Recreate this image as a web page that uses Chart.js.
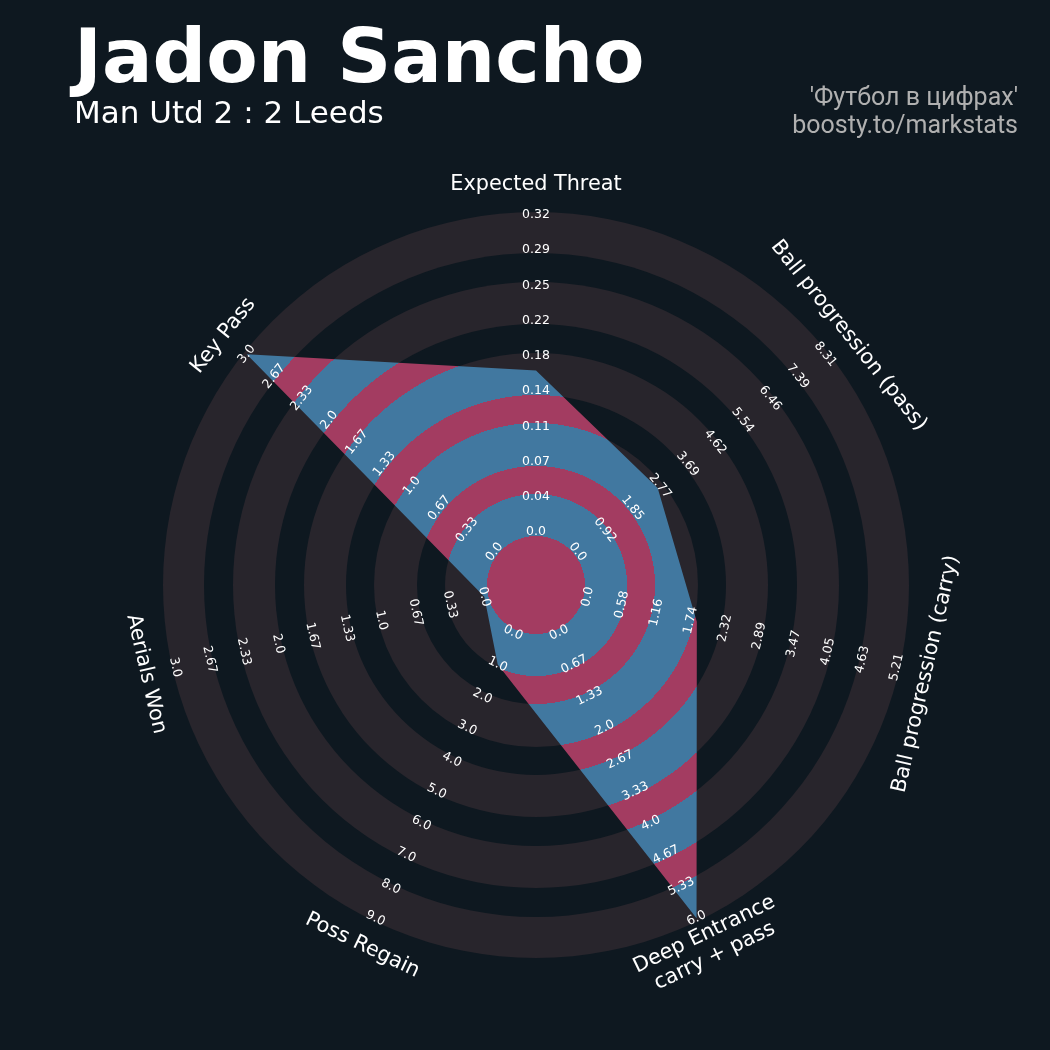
<!DOCTYPE html>
<html><head><meta charset="utf-8">
<script src="https://cdn.jsdelivr.net/npm/chart.js@4"></script>
<style>html,body{margin:0;padding:0;background:#0e1820;}canvas{display:block}</style>
</head><body>
<canvas id="c" width="1050" height="1050" style="width:1050px;height:1050px"></canvas>
<script>
// ---- data ----
const params = ['Expected Threat', 'Ball progression (pass)', 'Ball progression (carry)', ['Deep Entrance', 'carry + pass'], 'Poss Regain', 'Aerials Won', 'Key Pass'];
const mins = [0, 0, 0, 0, 0, 0, 0];
const maxs = [0.32, 8.31, 5.21, 6.0, 9.0, 3.0, 3.0];
const values = [0.163, 2.69, 1.84, 6.0, 1.0, 0.0, 3.0];
const ticksXT = ['0.0', '0.04', '0.07', '0.11', '0.14', '0.18', '0.22', '0.25', '0.29', '0.32'];
const ticksPass = ['0.0', '0.92', '1.85', '2.77', '3.69', '4.62', '5.54', '6.46', '7.39', '8.31'];
const ticksCarry = ['0.0', '0.58', '1.16', '1.74', '2.32', '2.89', '3.47', '4.05', '4.63', '5.21'];
const ticksDeep = ['0.0', '0.67', '1.33', '2.0', '2.67', '3.33', '4.0', '4.67', '5.33', '6.0'];
const ticksPoss = ['0.0', '1.0', '2.0', '3.0', '4.0', '5.0', '6.0', '7.0', '8.0', '9.0'];
const ticksAerial = ['0.0', '0.33', '0.67', '1.0', '1.33', '1.67', '2.0', '2.33', '2.67', '3.0'];
const ticksKey = ['0.0', '0.33', '0.67', '1.0', '1.33', '1.67', '2.0', '2.33', '2.67', '3.0'];
const tickLabels = [ticksXT, ticksPass, ticksCarry, ticksDeep, ticksPoss, ticksAerial, ticksKey];
const titleText = 'Jadon Sancho';
const subtitleText = 'Man Utd 2 : 2 Leeds';
const creditLines = ["'Футбол в цифрах'", 'boosty.to/markstats'];

// ---- style ----
const COLORS = {bg: '#0e1820', ring: '#28252c', blue: '#4178a0', pink: '#a33c61', text: '#ffffff', credit: '#b0b0b0'};
const RING_EDGES = [49, 91, 119, 162, 190, 232, 261, 303, 332, 373];
const SCALE_MIN = -0.1672;
const LABEL_R = 400;

const normalized = values.map((v, i) => (v - mins[i]) / (maxs[i] - mins[i]));

function ringGradient(chart) {
  const s = chart.scales.r;
  if (!s || !s.drawingArea) return COLORS.blue;
  const R = RING_EDGES[RING_EDGES.length - 1];
  const g = chart.ctx.createRadialGradient(s.xCenter, s.yCenter, 0, s.xCenter, s.yCenter, R);
  let prev = 0;
  RING_EDGES.forEach((e, k) => {
    const col = k % 2 === 0 ? COLORS.pink : COLORS.blue;
    g.addColorStop(prev / R, col);
    g.addColorStop(e / R, col);
    prev = e;
  });
  return g;
}

function rotFor(i, n) {
  let deg = i * 360 / n;
  if (deg > 90 && deg < 270) deg -= 180;
  return deg * Math.PI / 180;
}

const decor = {
  id: 'decor',
  beforeDraw(chart) {
    const ctx = chart.ctx, s = chart.scales.r;
    ctx.save();
    ctx.fillStyle = COLORS.bg;
    ctx.fillRect(0, 0, chart.width, chart.height);
    for (let k = RING_EDGES.length - 1; k >= 0; k--) {
      ctx.beginPath();
      ctx.arc(s.xCenter, s.yCenter, RING_EDGES[k], 0, Math.PI * 2);
      ctx.fillStyle = k === 0 ? COLORS.pink : (k % 2 === 1 ? COLORS.ring : COLORS.bg);
      ctx.fill();
    }
    ctx.restore();
  },
  afterDatasetsDraw(chart) {
    const ctx = chart.ctx, s = chart.scales.r;
    const n = params.length;
    ctx.save();
    ctx.fillStyle = COLORS.text;
    ctx.textAlign = 'center';
    ctx.textBaseline = 'middle';
    // range labels
    ctx.font = '12.5px "DejaVu Sans"';
    for (let i = 0; i < n; i++) {
      const labs = tickLabels[i];
      const rot = rotFor(i, n);
      labs.forEach((t, k) => {
        const p = s.getPointPositionForValue(i, k / (labs.length - 1));
        ctx.save();
        ctx.translate(p.x, p.y);
        ctx.rotate(rot);
        ctx.fillText(t, 0, 0);
        ctx.restore();
      });
    }
    // param labels
    ctx.font = '20.8px "DejaVu Sans"';
    for (let i = 0; i < n; i++) {
      const p = s.getPointPosition(i, LABEL_R);
      const lines = Array.isArray(params[i]) ? params[i] : [params[i]];
      const lh = 24;
      ctx.save();
      ctx.translate(p.x, p.y);
      ctx.rotate(rotFor(i, n));
      lines.forEach((ln, j) => ctx.fillText(ln, 0, (j - (lines.length - 1) / 2) * lh));
      ctx.restore();
    }
    ctx.restore();
  },
  afterDraw(chart) {
    const ctx = chart.ctx;
    ctx.save();
    ctx.fillStyle = COLORS.text;
    ctx.textBaseline = 'alphabetic';
    ctx.textAlign = 'left';
    ctx.font = 'bold 75px "DejaVu Sans"';
    ctx.fillText(titleText, 74, 82);
    ctx.font = '31px "DejaVu Sans"';
    ctx.fillText(subtitleText, 74, 123);
    ctx.textAlign = 'right';
    ctx.fillStyle = COLORS.credit;
    ctx.font = '25px Roboto';
    ctx.fillText(creditLines[0], 1018, 105);
    ctx.fillText(creditLines[1], 1018, 133);
    ctx.restore();
  }
};

new Chart(document.getElementById('c'), {
  type: 'radar',
  data: {
    labels: params,
    datasets: [{
      data: normalized,
      fill: 'start',
      backgroundColor: (ctx) => ringGradient(ctx.chart),
      borderWidth: 0,
      borderColor: 'rgba(0,0,0,0)',
      pointRadius: 0,
      tension: 0
    }]
  },
  options: {
    responsive: false,
    animation: false,
    devicePixelRatio: 1,
    layout: {padding: {left: 166, right: 144, top: 215, bottom: 95}},
    plugins: {legend: {display: false}, tooltip: {enabled: false}},
    scales: {
      r: {
        min: SCALE_MIN, max: 1, startAngle: 0,
        grid: {display: false}, angleLines: {display: false},
        pointLabels: {display: false}, ticks: {display: false}
      }
    }
  },
  plugins: [decor]
});
</script>
</body></html>
